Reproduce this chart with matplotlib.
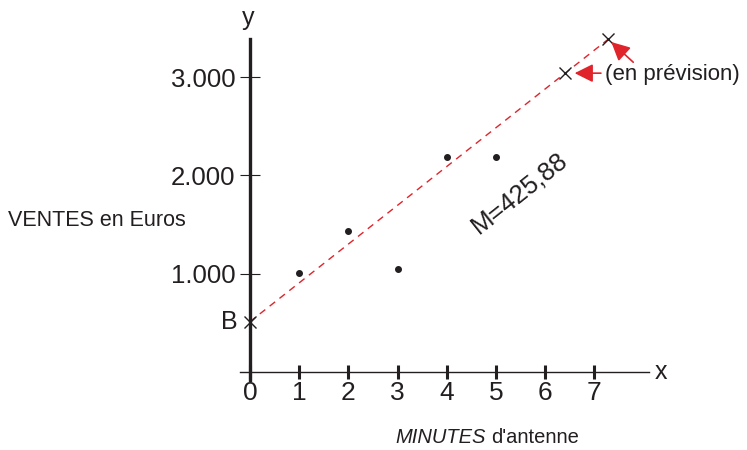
import matplotlib
matplotlib.use("Agg")
import matplotlib.pyplot as plt

plt.rcParams['font.family'] = ['Liberation Sans', 'DejaVu Sans']

# donnees
minutes = [1, 2, 3, 4, 5]
ventes = [1010, 1436, 1053, 2185, 2190]
B = 515
prev_x = [6.4, 7.28]
prev_y = [3040, 3385]
x_ticks = [0, 1, 2, 3, 4, 5, 6, 7]
y_ticks = [1000, 2000, 3000]
y_labels = ['1.000', '2.000', '3.000']

noir = '#231f20'
rouge = '#e0242b'

fig = plt.figure(figsize=(7.47, 4.5), dpi=100)
ax = fig.add_axes([0, 0, 1, 1])
ax.set_xlim(-5.081, 10.10)
ax.set_ylim(-789.6, 3783.5)

# axes
for s in ['top', 'right']:
    ax.spines[s].set_visible(False)
ax.spines['left'].set_position(('data', 0))
ax.spines['bottom'].set_position(('data', 0))
ax.spines['left'].set_bounds(-78, 3387)
ax.spines['bottom'].set_bounds(-0.2, 8.1)
ax.spines['left'].set_linewidth(2.4)
ax.spines['bottom'].set_linewidth(1.0)
ax.spines['left'].set_color(noir)
ax.spines['bottom'].set_color(noir)

ax.set_xticks(x_ticks)
ax.set_xticklabels([str(v) for v in x_ticks])
ax.set_yticks(y_ticks)
ax.set_yticklabels(y_labels)
ax.tick_params(axis='x', direction='inout', length=10, width=2.2, pad=1,
               colors=noir, labelsize=19)
ax.tick_params(axis='y', direction='inout', length=14.4, width=0.8, pad=3.5,
               colors=noir, labelsize=18.5)

# points
ax.plot(minutes, ventes, 'o', color=noir, ms=4)

# droite
ax.plot([0, prev_x[1]], [B, prev_y[1]], color=rouge, lw=1.0, ls=(0, (5, 4)))
ax.plot([0] + prev_x, [B] + prev_y, 'x', color=noir, ms=8, mew=1.0)

# fleches
ax.annotate('', xy=(prev_x[0], prev_y[0]), xytext=(36, 0), textcoords='offset pixels',
            arrowprops=dict(arrowstyle='-|>,head_length=0.7,head_width=0.35', color=rouge,
                            lw=1.2, shrinkA=0, shrinkB=7, mutation_scale=16))
ax.annotate('', xy=(prev_x[1], prev_y[1]), xytext=(25, -23), textcoords='offset pixels',
            arrowprops=dict(arrowstyle='-|>,head_length=0.7,head_width=0.35', color=rouge,
                            lw=1.2, shrinkA=0, shrinkB=3, mutation_scale=16))

ax.text(7.215, 3025, '(en prévision)', ha='left', va='center', fontsize=16, color=noir)
ax.text(-0.04, 3600, 'y', ha='center', va='center', fontsize=18, color=noir)
ax.text(8.35, 0, 'x', ha='center', va='center', fontsize=18, color=noir)
ax.text(-0.43, 512, 'B', ha='center', va='center', fontsize=18, color=noir)
ax.text(-4.92, 1547, 'VENTES en Euros', ha='left', va='center', fontsize=15.5, color=noir)
ax.text(4.80, -667, 'MINUTES', ha='right', va='center', fontsize=14.5, style='italic', color=noir)
ax.text(4.90, -667, "d'antenne", ha='left', va='center', fontsize=14.5, color=noir)
ax.text(5.47, 1822, 'M=425,88', ha='center', va='center', fontsize=18.5, rotation=38.5,
        rotation_mode='anchor', color=noir)

fig.savefig('out.png', dpi=100)
